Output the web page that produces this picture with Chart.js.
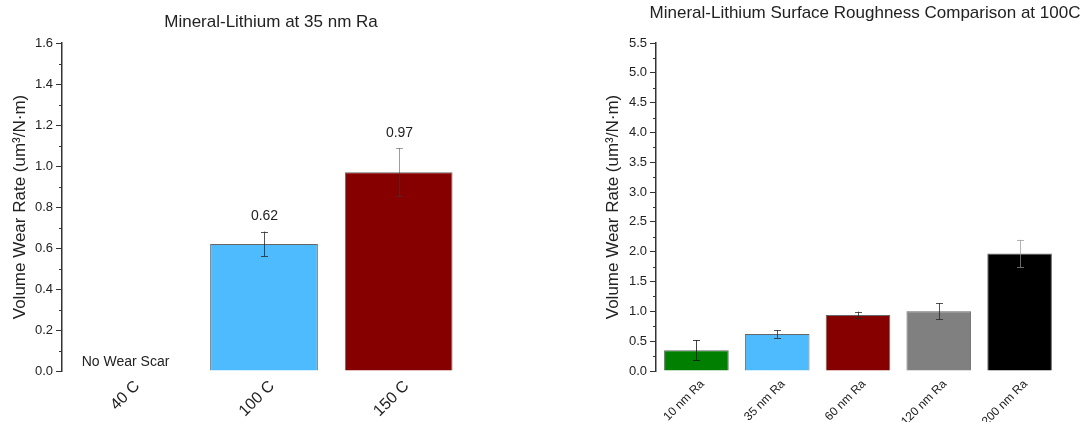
<!DOCTYPE html>
<html><head><meta charset="utf-8">
<script src="https://cdn.jsdelivr.net/npm/chart.js@4.4.1/dist/chart.umd.min.js"></script>
<style>
html,body{margin:0;padding:0;background:#fff;width:1086px;height:422px;overflow:hidden}
#c1{position:absolute;left:0;top:0}
#c2{position:absolute;left:560px;top:0}
</style></head><body>
<canvas id="c1" width="480" height="422"></canvas>
<canvas id="c2" width="526" height="422"></canvas>
<script>
// ---- data: left chart ----
const leftTitle = 'Mineral-Lithium at 35 nm Ra';
const leftCategories = ['40 C', '100 C', '150 C'];
const leftValues = [null, 0.62, 0.97];
const leftErrors = [null, 0.06, 0.117];
const leftNotes = ['No Wear Scar', '', ''];
const leftYMin = 0, leftYMax = 1.6, leftYStep = 0.2;

// ---- data: right chart ----
const rightTitle = 'Mineral-Lithium Surface Roughness Comparison at 100C';
const rightCategories = ['10 nm Ra', '35 nm Ra', '60 nm Ra', '120 nm Ra', '200 nm Ra'];
const rightValues = [0.35, 0.62, 0.94, 1.00, 1.97];
const rightErrors = [0.165, 0.065, 0.055, 0.135, 0.23];
const rightYMin = 0, rightYMax = 5.5, rightYStep = 0.5;

const yAxisTitle = 'Volume Wear Rate (um\u00B3/N\u00B7m)';

// ---- styles ----
const FONT = "'Liberation Sans', Arial, sans-serif";
const TXT = '#222';
const leftColors = ['#000000', '#4fbbff', '#860000'];
const rightColors = ['#007f00', '#4fbbff', '#860000', '#808080', '#000000'];
const leftErrColors = ['#444', 'rgba(40,40,40,0.8)', 'rgba(60,60,60,0.5)'];
const rightErrColors = ['rgba(20,20,20,0.8)', 'rgba(40,40,40,0.8)', 'rgba(40,40,40,0.8)', 'rgba(40,40,40,0.8)', 'rgba(150,150,150,0.7)'];

Chart.defaults.font.family = FONT;
Chart.defaults.color = TXT;

const decor = {
  id: 'decor',
  afterDatasetsDraw(chart, args, o) {
    const ctx = chart.ctx, xs = chart.scales.x, ys = chart.scales.y;
    const data = chart.data.datasets[0].data;
    ctx.save();
    data.forEach((v, i) => {
      const px = Math.round(xs.getPixelForValue(i)) + 0.5;
      if (v != null && o.errors[i] != null) {
        const t = ys.getPixelForValue(v + o.errors[i]);
        const b = ys.getPixelForValue(v - o.errors[i]);
        ctx.strokeStyle = o.errColors[i];
        ctx.lineWidth = 1;
        ctx.beginPath();
        ctx.moveTo(px, t); ctx.lineTo(px, b);
        ctx.moveTo(px - 3.5, Math.round(t) + 0.5); ctx.lineTo(px + 3.5, Math.round(t) + 0.5);
        ctx.moveTo(px - 3.5, Math.round(b) + 0.5); ctx.lineTo(px + 3.5, Math.round(b) + 0.5);
        ctx.stroke();
        if (o.showValues) {
          ctx.fillStyle = TXT;
          ctx.font = '14px ' + FONT;
          ctx.textAlign = 'center';
          ctx.textBaseline = 'middle';
          ctx.fillText(v.toFixed(2), px, t - 15);
        }
      }
      if (o.notes && o.notes[i]) {
        ctx.fillStyle = TXT;
        ctx.font = '14px ' + FONT;
        ctx.textAlign = 'center';
        ctx.textBaseline = 'middle';
        ctx.fillText(o.notes[i], px - 4, ys.getPixelForValue(0) - 9);
      }
    });
    ctx.restore();
  },
  afterDraw(chart, args, o) {
    const ctx = chart.ctx, ys = chart.scales.y, area = chart.chartArea;
    ctx.save();
    // title
    ctx.fillStyle = TXT;
    ctx.font = '17px ' + FONT;
    ctx.textAlign = 'center';
    ctx.textBaseline = 'middle';
    ctx.fillText(o.title, (area.left + area.right) / 2 + 7, o.titleY);
    // minor ticks
    const ticks = ys.ticks;
    ctx.strokeStyle = '#333';
    ctx.lineWidth = 1;
    ctx.beginPath();
    for (let i = 0; i < ticks.length - 1; i++) {
      const p = Math.round((ys.getPixelForValue(ticks[i].value) + ys.getPixelForValue(ticks[i + 1].value)) / 2) + 0.5;
      ctx.moveTo(area.left - 3, p); ctx.lineTo(area.left, p);
    }
    ctx.stroke();
    ctx.restore();
  }
};

function makeChart(id, cats, vals, colors, cfg) {
  return new Chart(document.getElementById(id), {
    type: 'bar',
    data: {
      labels: cats,
      datasets: [{
        data: vals,
        backgroundColor: colors,
        borderColor: '#666',
        borderWidth: 1,
        barPercentage: 0.8,
        categoryPercentage: 1.0
      }]
    },
    plugins: [decor],
    options: {
      responsive: false,
      animation: false,
      devicePixelRatio: 1,
      layout: { padding: { top: 43, right: cfg.padRight, left: 0, bottom: 0 } },
      plugins: {
        legend: { display: false },
        tooltip: { enabled: false },
        title: { display: false },
        decor: cfg.decor
      },
      scales: {
        x: {
          grid: { display: false, drawTicks: false },
          border: { display: false },
          ticks: {
            minRotation: 45, maxRotation: 45,
            padding: cfg.xPad,
            labelOffset: cfg.xLabelOffset,
            font: { size: cfg.xFont },
            color: TXT
          },
          afterFit(s) { s.height = 51; }
        },
        y: {
          min: cfg.yMin, max: cfg.yMax,
          grid: { drawOnChartArea: false, drawTicks: true, tickLength: 6, color: '#333', lineWidth: 1 },
          border: { display: true, color: '#333', width: 1.5 },
          ticks: {
            stepSize: cfg.yStep,
            padding: 3,
            font: { size: 13 },
            color: TXT,
            callback: v => Number(v).toFixed(1)
          },
          title: {
            display: true,
            text: yAxisTitle,
            font: { size: 17 },
            color: TXT,
            padding: { top: cfg.yTitlePad, bottom: 0 }
          },
          afterFit(s) { s.width = cfg.yWidth; }
        }
      }
    }
  });
}

makeChart('c1', leftCategories, leftValues, leftColors, {
  padRight: 14, yWidth: 62, yTitlePad: 10, yMin: leftYMin, yMax: leftYMax, yStep: leftYStep,
  xFont: 16, xPad: 6, xLabelOffset: 8,
  decor: { title: leftTitle, titleY: 22, errors: leftErrors, errColors: leftErrColors, showValues: true, notes: leftNotes }
});

makeChart('c2', rightCategories, rightValues, rightColors, {
  padRight: 26, yWidth: 96, yTitlePad: 43, yMin: rightYMin, yMax: rightYMax, yStep: rightYStep,
  xFont: 12, xPad: 6, xLabelOffset: 6,
  decor: { title: rightTitle, titleY: 13, errors: rightErrors, errColors: rightErrColors, showValues: false, notes: null }
});
</script>
</body></html>
